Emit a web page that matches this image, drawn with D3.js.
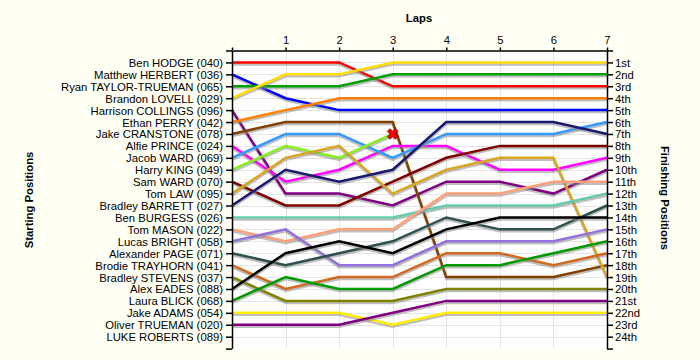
<!DOCTYPE html>
<html><head><meta charset="utf-8">
<script src="https://cdn.jsdelivr.net/npm/d3@7"></script>
<style>
html,body{margin:0;padding:0;background:#fffff4;}
svg{display:block;}
text{font-family:"Liberation Sans",Arial,sans-serif;}
</style></head>
<body><svg id="c" width="700" height="360"></svg>
<script>
const laps = [0,1,2,3,4,5,6,7];
const lapLabels = ["","1","2","3","4","5","6","7"];
const drivers = ["Ben HODGE (040)","Matthew HERBERT (036)","Ryan TAYLOR-TRUEMAN (065)","Brandon LOVELL (029)","Harrison COLLINGS (096)","Ethan PERRY (042)","Jake CRANSTONE (078)","Alfie PRINCE (024)","Jacob WARD (069)","Harry KING (049)","Sam WARD (070)","Tom LAW (095)","Bradley BARRETT (027)","Ben BURGESS (026)","Tom MASON (022)","Lucas BRIGHT (058)","Alexander PAGE (071)","Brodie TRAYHORN (041)","Bradley STEVENS (037)","Alex EADES (088)","Laura BLICK (068)","Jake ADAMS (054)","Oliver TRUEMAN (020)","LUKE ROBERTS (089)"];
const finishLabels = ["1st","2nd","3rd","4th","5th","6th","7th","8th","9th","10th","11th","12th","13th","14th","15th","16th","17th","18th","19th","20th","21st","22nd","23rd","24th"];
const colors = ["#ff0000","#0000ff","#00a000","#ffdd00","#800080","#ff8000","#804000","#ff00ff","#3399ff","#88ee22","#800000","#daa520","#191970","#66cdaa","#ffa07a","#9370db","#2f4f4f","#d2691e","#808000","#000000","#009900","#ffee00","#800080",null];
// positions at laps 0..7 (null = retired / no data)
const positions = [
 [1,1,1,3,3,3,3,3],
 [2,4,5,5,5,5,5,5],
 [3,3,3,2,2,2,2,2],
 [4,2,2,1,1,1,1,1],
 [5,12,12,13,11,11,12,10],
 [6,5,4,4,4,4,4,4],
 [7,6,6,6,19,19,19,18],
 [8,11,10,8,8,10,10,9],
 [9,7,7,9,7,7,7,6],
 [10,8,9,7,null,null,null,null],
 [11,13,13,11,9,8,8,8],
 [12,9,8,12,10,9,9,19],
 [13,10,11,10,6,6,6,7],
 [14,14,14,14,13,13,13,12],
 [15,16,15,15,12,12,11,11],
 [16,15,18,18,16,16,16,15],
 [17,18,17,16,14,15,15,13],
 [18,20,19,19,17,17,18,17],
 [19,21,21,21,20,20,20,20],
 [20,17,16,17,15,14,14,14],
 [21,19,20,20,18,18,17,16],
 [22,22,22,23,22,22,22,22],
 [23,23,23,22,21,21,21,21],
 [null,null,null,null,null,null,null,null]
];
const retired = [{driver:9, lap:3}];

const svg = d3.select("#c");
const x = d3.scaleLinear().domain([0,7]).range([232,607]);
const y = d3.scaleLinear().domain([0,25]).range([50.5,348.6]);

// plot background
svg.append("rect").attr("x",x(0)).attr("y",y(0)).attr("width",x(7)-x(0)).attr("height",y(25)-y(0)).attr("fill","#ffffff");

// grid
const g = svg.append("g");
g.selectAll(".hg").data(d3.range(1,25)).join("line")
 .attr("x1",x(0)).attr("x2",x(7)).attr("y1",d=>Math.round(y(d))+0.5).attr("y2",d=>Math.round(y(d))+0.5)
 .attr("stroke","#e4e4e4").attr("stroke-width",1);
g.selectAll(".vg").data(laps.slice(1,7)).join("line")
 .attr("y1",y(0)).attr("y2",y(25)).attr("x1",d=>Math.round(x(d))+0.5).attr("x2",d=>Math.round(x(d))+0.5)
 .attr("stroke","#e4e4e4").attr("stroke-width",1);

// lines
const series = positions.map((p,i)=>({i, color:colors[i], pts:p.map((v,j)=>({lap:laps[j], pos:v}))})).filter(s=>s.color);
const line = d3.line().defined(d=>d.pos!=null).x(d=>x(d.lap)).y(d=>y(d.pos));
const lg = svg.append("g");
series.forEach(s=>{
  lg.append("path").attr("d",line(s.pts)).attr("fill","none").attr("stroke","#8a8a8a").attr("stroke-opacity",0.55)
    .attr("stroke-width",2.5).attr("transform","translate(0,2)");
  lg.append("path").attr("d",line(s.pts)).attr("fill","none").attr("stroke",s.color).attr("stroke-width",2.5);
});

// retired marker
retired.forEach(r=>{
  svg.append("path").attr("d",d3.symbol(d3.symbolCross,70)())
   .attr("transform",`translate(${x(r.lap)},${y(positions[r.driver][r.lap])}) rotate(45)`)
   .attr("fill","#ff0000").attr("stroke","#800000").attr("stroke-width",0.8);
});

// axes
const la = svg.append("g").attr("transform",`translate(${x(0)},0)`)
 .call(d3.axisLeft(y).tickValues(d3.range(0,26)).tickSize(6).tickSizeOuter(0).tickPadding(3)
   .tickFormat(d=>(d>=1&&d<=24)?drivers[d-1]:""));
const ra = svg.append("g").attr("transform",`translate(${x(7)},0)`)
 .call(d3.axisRight(y).tickValues(d3.range(0,26)).tickSize(6).tickSizeOuter(0).tickPadding(2)
   .tickFormat(d=>(d>=1&&d<=24)?finishLabels[d-1]:""));
const ta = svg.append("g").attr("transform",`translate(0,${y(0)})`)
 .call(d3.axisTop(x).tickValues(laps).tickSize(3).tickSizeOuter(0).tickPadding(4)
   .tickFormat((d,i)=>lapLabels[i]));
[la,ra,ta].forEach(a=>{
  a.selectAll("text").attr("font-size",11.3).attr("fill","#000").attr("font-family","'Liberation Sans',Arial,sans-serif");
  a.selectAll("line,path").attr("stroke","#000").attr("stroke-width",1.5);
});
la.selectAll(".tick text").attr("dy","0.35em");
ra.selectAll(".tick text").attr("dy","0.35em");

// titles
svg.append("text").attr("x",419).attr("y",22).attr("text-anchor","middle").attr("font-size",11.3).attr("font-weight","bold").text("Laps");
svg.append("text").attr("transform","translate(33,200) rotate(-90)").attr("text-anchor","middle").attr("font-size",11.3).attr("font-weight","bold").text("Starting Positions");
svg.append("text").attr("transform","translate(661,198) rotate(90)").attr("text-anchor","middle").attr("font-size",11.3).attr("font-weight","bold").text("Finishing Positions");
</script></body></html>
